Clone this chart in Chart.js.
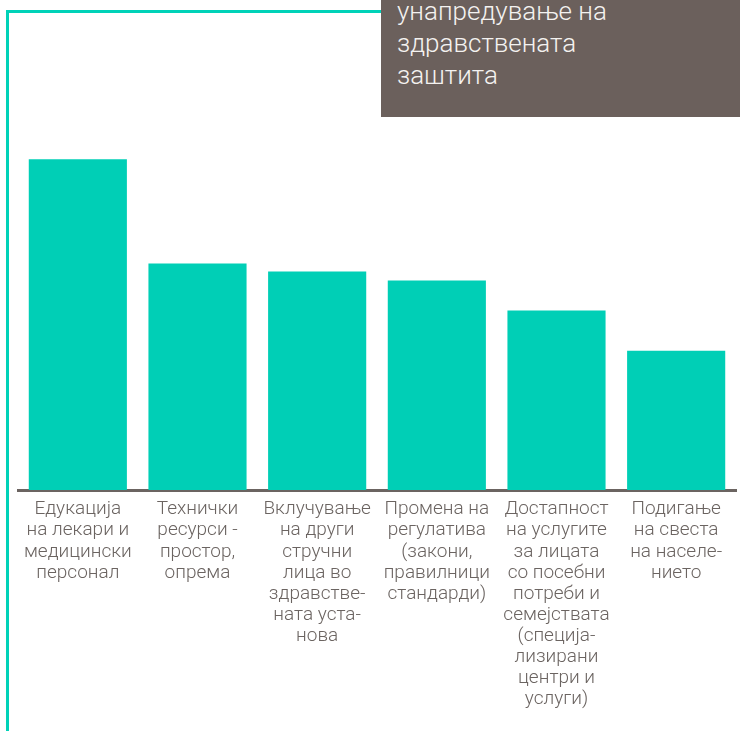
<!DOCTYPE html>
<html>
<head>
<meta charset="utf-8">
<script src="https://cdn.jsdelivr.net/npm/chart.js@4"></script>
<style>
  body { margin: 0; background: #fff; }
  #wrap { position: relative; width: 740px; height: 731px; overflow: hidden; }
  #frame { position: absolute; left: 6px; top: 10px; width: 380px; height: 740px;
           border-left: 3px solid #00d2b8; border-top: 3px solid #00d2b8; }
  #box { position: absolute; left: 381px; top: 0; width: 359px; height: 117px; background: #6b605c;
         color: #f4f2f0; font-family: Roboto, sans-serif; font-weight: 300; font-size: 26px;
         line-height: 32px; padding-left: 16px; box-sizing: border-box; }
  #box div { margin-top: -5px; }
  canvas { position: absolute; left: 0; top: 0; }
</style>
</head>
<body>
<div id="wrap">
  <canvas id="chart" width="740" height="731"></canvas>
  <div id="frame"></div>
  <div id="box"><div>унапредување на<br>здравствената<br>заштита</div></div>
</div>
<script>
// категории (по редови како во оригиналот)
const categories = [
  ['Едукација', 'на лекари и', 'медицински', 'персонал'],
  ['Технички', 'ресурси -', 'простор,', 'опрема'],
  ['Вклучување', 'на други', 'стручни', 'лица во', 'здравстве-', 'ната уста-', 'нова'],
  ['Промена на', 'регулатива', '(закони,', 'правилници', 'стандарди)'],
  ['Достапност', 'на услугите', 'за лицата', 'со посебни', 'потреби и', 'семејствата', '(специја-', 'лизирани', 'центри и', 'услуги)'],
  ['Подигање', 'на свеста', 'на населе-', 'нието']
];
const values = [66, 45.2, 43.6, 41.8, 35.8, 27.8];
const yMax = 80;

const teal = '#00cfb6';
const gray = '#6b6461';

new Chart(document.getElementById('chart').getContext('2d'), {
  type: 'bar',
  data: {
    labels: categories,
    datasets: [{
      data: values,
      backgroundColor: teal,
      borderWidth: 0,
      categoryPercentage: 1,
      barPercentage: 0.82
    }]
  },
  options: {
    responsive: false,
    animation: false,
    layout: { padding: { top: 89, left: 18, right: 4, bottom: 12 } },
    plugins: { legend: { display: false }, tooltip: { enabled: false } },
    scales: {
      y: { display: false, min: 0, max: yMax },
      x: {
        grid: { display: false, drawTicks: false },
        border: { display: true, color: gray, width: 3 },
        ticks: {
          color: gray,
          padding: 9,
          maxRotation: 0,
          autoSkip: false,
          font: { family: 'Roboto', weight: 300, size: 19, lineHeight: 1.11 }
        }
      }
    }
  }
});
</script>
</body>
</html>
